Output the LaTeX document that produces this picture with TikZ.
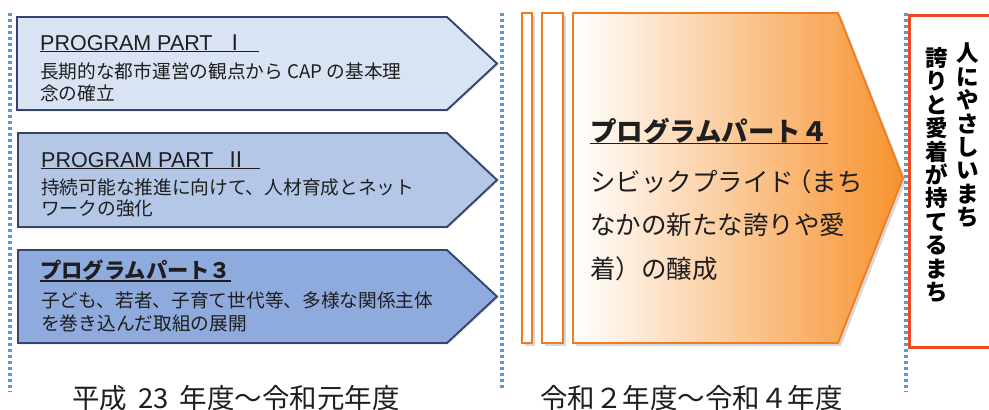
\documentclass[tikz,border=0pt]{standalone}
\usepackage{fontspec}
\setmainfont{Noto Sans CJK JP}
\newfontfamily\latinsf{Liberation Sans}
\usetikzlibrary{shadows}
\definecolor{boxA}{HTML}{DAE3F3}
\definecolor{boxB}{HTML}{B4C7E7}
\definecolor{boxC}{HTML}{8FAADC}
\definecolor{navyline}{HTML}{33456A}
\definecolor{dotblue}{HTML}{5B9BD5}
\definecolor{orangeline}{HTML}{F07C22}
\definecolor{orangefill}{HTML}{F7922E}
\definecolor{redline}{HTML}{EE4A22}
\definecolor{txt}{HTML}{1E1E1E}
\newcommand\myul[2][2.2pt]{\setbox0\hbox{#2}\rlap{\rule[-#1]{\wd0}{1.4pt}}\box0}
\begin{document}
\begin{tikzpicture}[x=1pt,y=-1pt,
  progbox/.style={draw=navyline, line width=1.9pt, line join=miter,
    drop shadow={opacity=0.18, shadow xshift=1.5pt, shadow yshift=-1.5pt}},
  dotline/.style={draw=dotblue, line width=3.2pt, dash pattern=on 3pt off 3pt},
  orangebar/.style={draw=orangeline, line width=1.8pt, fill=white,
    drop shadow={opacity=0.3, shadow xshift=3pt, shadow yshift=-3pt}},
  titletxt/.style={anchor=base west, inner sep=0pt, text=txt, font=\fontsize{21.5}{24}\selectfont},
  bodytxt/.style={anchor=base west, inner sep=0pt, text=txt, font=\fontsize{18.7}{22}\selectfont},
  bigtxt/.style={anchor=base west, inner sep=0pt, text=txt, font=\fontsize{25.5}{30}\selectfont},
  yeartxt/.style={anchor=base west, inner sep=0pt, text=txt, font=\fontsize{27.5}{30}\selectfont},
  vtxt/.style={anchor=north, inner sep=0pt, align=center, text=black, font=\bfseries\fontsize{22.5}{23.4}\selectfont}
]
\useasboundingbox (0,0) rectangle (989,410);
\fill[white] (0,0) rectangle (989,410);

% dotted separators
\draw[dotline] (10,13) -- (10,392);
\draw[dotline] (502,13) -- (502,390);

% left program boxes
\path[progbox, fill=boxA] (17,17) -- (447,17) -- (497,63.5) -- (447,110) -- (17,110) -- cycle;
\path[progbox, fill=boxB] (18,133) -- (447,133) -- (497,180) -- (447,227) -- (18,227) -- cycle;
\path[progbox, fill=boxC] (18,250) -- (447,250) -- (497,296.5) -- (447,343) -- (18,343) -- cycle;

% box 1 text
\node[titletxt] (t1) at (40,50) {\myul{{\latinsf PROGRAM PART}\makebox[46pt]{Ⅰ}}};
\node[bodytxt] (b1a) at (40,78) {長期的な都市運営の観点から CAP の基本理};
\node[bodytxt] (b1b) at (40,100) {念の確立};
% box 2 text
\node[titletxt] (t2) at (41,167) {\myul{{\latinsf PROGRAM PART}\makebox[46pt]{Ⅱ}}};
\node[bodytxt] (b2a) at (41,194) {持続可能な推進に向けて、人材育成とネット};
\node[bodytxt] (b2b) at (41,215) {ワークの強化};
% box 3 text
\node[titletxt, font=\bfseries\fontsize{21.3}{24}\selectfont] (t3) at (40,278) {\myul[3.5pt]{プログラムパート３}};
\node[bodytxt] (b3a) at (41,307) {子ども、若者、子育て世代等、多様な関係主体};
\node[bodytxt] (b3b) at (41,330) {を巻き込んだ取組の展開};

% year label left
\node[yeartxt] (y1) at (72,408) {平成\hspace{11pt}23\hspace{11pt}年度～令和元年度};

% orange bars and arrow
\path[orangebar] (522,13) rectangle (532,343);
\path[orangebar] (542,13) rectangle (563,343);
\path[draw=orangeline, line width=1.8pt, line join=miter, left color=white, right color=orangefill,
  drop shadow={opacity=0.3, shadow xshift=3pt, shadow yshift=-3pt}]
  (573,13) -- (838,13) -- (903,178) -- (838,343) -- (573,343) -- cycle;

\node[bigtxt, font=\bfseries\fontsize{26.5}{30}\selectfont] (t4) at (590,141) {\myul[3pt]{プログラムパート４}};
\node[bigtxt] (b4a) at (590,191) {シビックプライド\kern-8pt（まち};
\node[bigtxt] (b4b) at (590,234) {なかの新たな誇りや愛};
\node[bigtxt] (b4c) at (590,278) {着）の醸成};

% year label right
\node[yeartxt] (y2) at (540,408) {令和２年度～令和４年度};

% right box
\draw[dotline] (906,13) -- (906,392);
\draw[redline, line width=3pt, fill=white] (909,15) rectangle (1000,347);
\node[vtxt] (v1) at (968,43) {人\\に\\や\\さ\\し\\い\\ま\\ち};
\node[vtxt] (v2) at (937,47) {誇\\り\\と\\愛\\着\\が\\持\\て\\る\\ま\\ち};
\end{tikzpicture}
\end{document}
